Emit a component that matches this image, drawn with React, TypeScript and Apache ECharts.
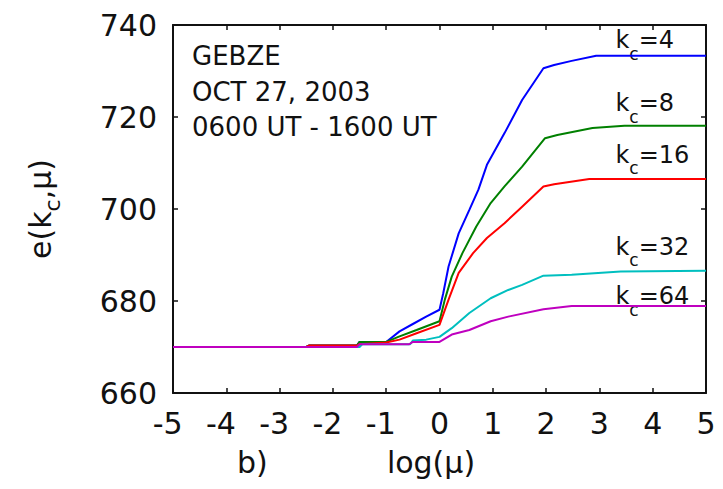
import { useEffect, useRef } from 'react';
import * as echarts from 'echarts';

// e(k_c, mu) against log(mu), one curve per cut-off k_c
const kcValues = [4, 8, 16, 32, 64];
const seriesColors = ['#0000ff', '#008000', '#ff0000', '#00bfbf', '#bf00bf'];

const eKc4: [number, number][] = [
  [-5, 670], [-2.5, 670], [-2.45, 670.3], [-1.55, 670.3], [-1.5, 671.1], [-1.0, 671.1],
  [-0.75, 673.4], [-0.5, 675.0], [-0.25, 676.6], [0, 678.1], [0.07, 681.7], [0.17, 687.5],
  [0.36, 694.7], [0.56, 699.8], [0.73, 704.2], [0.89, 709.6], [1.22, 716.5], [1.55, 723.7],
  [1.95, 730.6], [2.15, 731.3], [2.48, 732.2], [2.94, 733.3], [5, 733.3],
];
const eKc8: [number, number][] = [
  [-5, 670], [-2.5, 670], [-2.45, 670.3], [-1.55, 670.3], [-1.5, 671.1], [-1.0, 671.1],
  [-0.75, 672.3], [-0.43, 673.7], [0, 675.6], [0.1, 680.3], [0.23, 685.3], [0.43, 690.4],
  [0.69, 696.2], [0.96, 701.3], [1.22, 704.9], [1.55, 709.2], [1.98, 715.4], [2.21, 716.1],
  [2.87, 717.6], [3.47, 718.1], [5, 718.1],
];
const eKc16: [number, number][] = [
  [-5, 670], [-2.5, 670], [-2.45, 670.3], [-1.55, 670.3], [-1.5, 670.6], [-1.0, 671.0],
  [-0.75, 671.6], [-0.43, 673.0], [0, 674.8], [0.17, 680.3], [0.36, 686.1], [0.63, 690.4],
  [0.89, 693.7], [1.22, 696.9], [1.55, 700.5], [1.95, 704.9], [2.15, 705.4], [2.81, 706.5],
  [5, 706.5],
];
const eKc32: [number, number][] = [
  [-5, 670], [-1.5, 670], [-1.45, 670.6], [-0.55, 670.6], [-0.5, 671.4], [-0.25, 671.6],
  [0, 672.2], [0.23, 674.1], [0.56, 677.4], [0.96, 680.6], [1.29, 682.4], [1.55, 683.5],
  [1.95, 685.5], [2.48, 685.7], [3.4, 686.4], [5, 686.6],
];
const eKc64: [number, number][] = [
  [-5, 670], [-1.55, 670], [-1.5, 670.6], [-0.57, 670.6], [-0.5, 671.1], [0, 671.1],
  [0.23, 672.7], [0.56, 673.7], [0.96, 675.6], [1.29, 676.6], [1.95, 678.2], [2.48, 678.9],
  [5, 678.9],
];
const seriesData = [eKc4, eKc8, eKc16, eKc32, eKc64];

// where each "k_c=..." label starts (log(mu), baseline value of e)
const kcLabelLogMu = 3.3;
const kcLabelE = [734.9, 721.2, 710.0, 690.0, 679.2];

const stationLines = ['GEBZE', 'OCT 27, 2003', '0600 UT - 1600 UT'];

const FONT = 'DejaVu Sans';
const INK = '#111111';
const CENTRAL = 0.346; // distance from the central line down to the baseline, in em

function textWidth(s: string, size: number): number {
  const ctx = document.createElement('canvas').getContext('2d');
  if (!ctx) return s.length * size * 0.6;
  ctx.font = `${size}px "${FONT}"`;
  return ctx.measureText(s).width;
}

// horizontal text whose alphabetic baseline sits at y
function baselineText(text: string, x: number, y: number, size: number, align = 'left') {
  return {
    type: 'text',
    x,
    y: y - CENTRAL * size,
    silent: true,
    style: {
      text,
      fontSize: size,
      fontFamily: FONT,
      fill: INK,
      align,
      textAlign: align,
      verticalAlign: 'middle',
      textVerticalAlign: 'middle',
    },
  };
}

// "pre" + subscript + "post" along one baseline
function subscriptRow(x: number, y: number, pre: string, sub: string, post: string,
  size: number, subSize: number, drop: number) {
  const w1 = textWidth(pre, size);
  const w2 = textWidth(sub, subSize);
  return [
    baselineText(pre, x, y, size),
    baselineText(sub, x + w1, y + drop, subSize),
    baselineText(post, x + w1 + w2, y, size),
  ];
}

export default function App() {
  const ref = useRef<HTMLDivElement>(null);

  useEffect(() => {
    if (!ref.current) return;
    const chart = echarts.init(ref.current, undefined, { renderer: 'svg' });
    const hyphenW = textWidth('-', 30);

    const axisLine = { show: true, onZero: false, lineStyle: { color: INK, width: 2 } };
    const axisTick = { show: true, inside: true, length: 5, lineStyle: { color: INK, width: 1.5 } };

    chart.setOption({
      animation: false,
      backgroundColor: '#ffffff',
      grid: { left: 173, right: 17, top: 25, bottom: 96, containLabel: false },
      xAxis: [
        {
          type: 'value', position: 'bottom', min: -5, max: 5, interval: 1,
          axisLine, axisTick, splitLine: { show: false },
          axisLabel: {
            margin: 15,
            color: INK,
            fontSize: 30,
            fontFamily: FONT,
            formatter: (v: number) => (v < 0 ? `{d|-${-v}}{s| }` : `{d|${v}}`),
            rich: {
              d: { fontSize: 30, fontFamily: FONT, color: INK },
              s: { width: hyphenW, fontSize: 30, fontFamily: FONT },
            },
          },
        },
        {
          type: 'value', position: 'top', min: -5, max: 5, interval: 1,
          axisLine, axisTick, axisLabel: { show: false }, splitLine: { show: false },
        },
      ],
      yAxis: [
        {
          type: 'value', position: 'left', min: 660, max: 740, interval: 20,
          axisLine, axisTick, splitLine: { show: false },
          axisLabel: { margin: 16, color: INK, fontSize: 30, fontFamily: FONT },
          name: '{m|e(k}{c|c}{m|,μ)}',
          nameLocation: 'middle',
          nameRotate: 90,
          nameGap: 110,
          nameTextStyle: {
            color: INK,
            fontSize: 30,
            fontFamily: FONT,
            rich: {
              m: { fontSize: 30, fontFamily: FONT, color: INK },
              c: { fontSize: 22, fontFamily: FONT, color: INK, padding: [24, 0, 0, 0] },
            },
          },
        },
        {
          type: 'value', position: 'right', min: 660, max: 740, interval: 20,
          axisLine, axisTick, axisLabel: { show: false }, splitLine: { show: false },
        },
      ],
      series: seriesData.map((data, i) => ({
        name: `k_c=${kcValues[i]}`,
        type: 'line',
        xAxisIndex: 0,
        yAxisIndex: 0,
        data,
        showSymbol: false,
        symbol: 'none',
        lineStyle: { color: seriesColors[i], width: 2 },
        itemStyle: { color: seriesColors[i] },
      })),
    });

    const kcLabels = kcValues.flatMap((k, i) => {
      const [px, py] = chart.convertToPixel({ gridIndex: 0 }, [kcLabelLogMu, kcLabelE[i]]) as number[];
      return subscriptRow(px, py, 'k', 'c', `=${k}`, 24, 17, 11);
    });

    const station = stationLines.map((t, i) => baselineText(t, 192, 65 + i * 35.5, 26));

    chart.setOption({
      graphic: [
        ...kcLabels,
        ...station,
        baselineText('b)', 237, 473, 30),
        baselineText('log(μ)', 431, 473, 30, 'center'),
      ],
    });

    return () => chart.dispose();
  }, []);

  return (
    <div
      ref={ref}
      style={{ position: 'absolute', left: 0, top: 0, width: 723, height: 489, background: '#fff' }}
    />
  );
}
